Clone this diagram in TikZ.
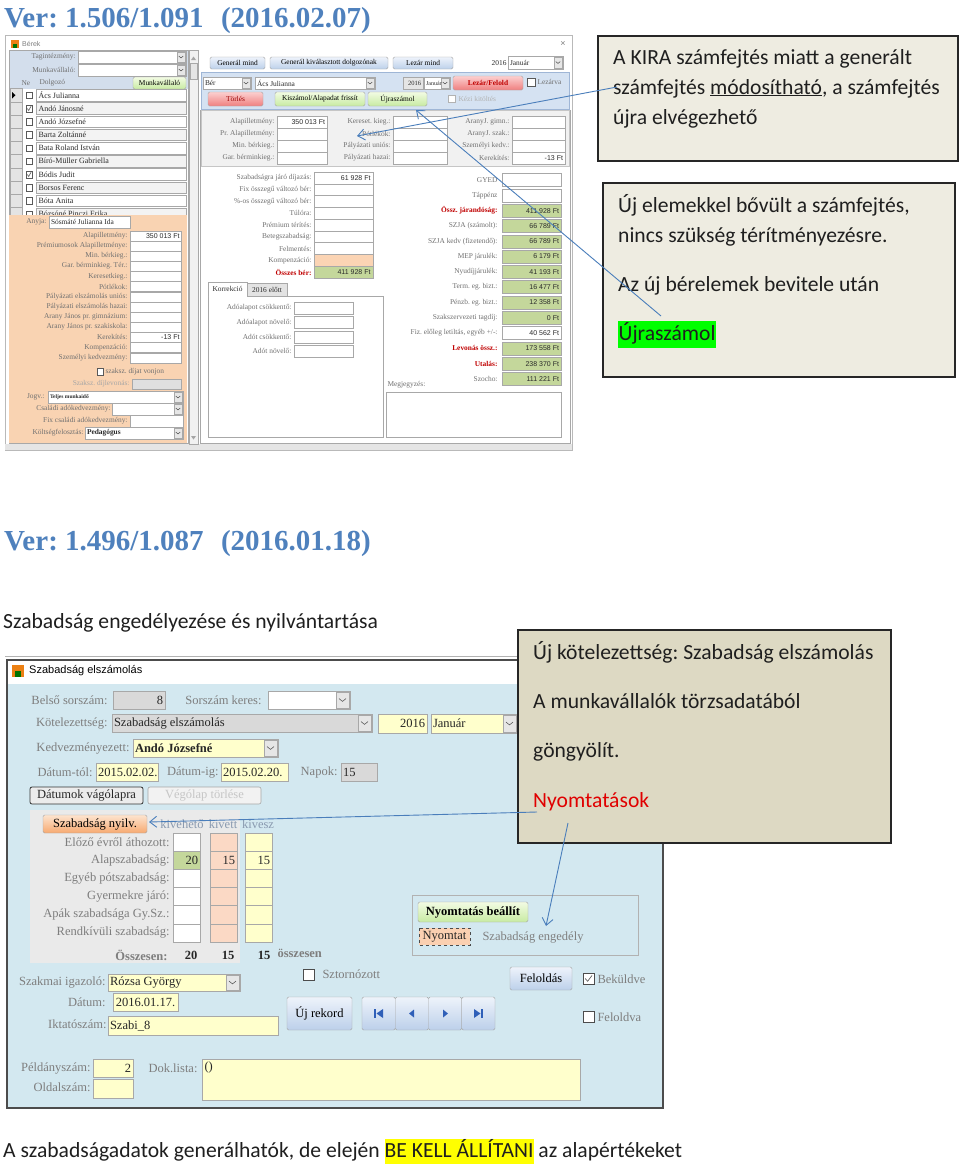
\documentclass[tikz,border=0pt]{standalone}
\usepackage{fontspec}
\setmainfont{Liberation Serif}
\newfontfamily\calfont{Carlito}
\newfontfamily\sansui{Liberation Sans}
\usetikzlibrary{arrows.meta}
\frenchspacing
\definecolor{titleblue}{HTML}{4F81BD}
\definecolor{arrowblue}{HTML}{4A7EBB}
\definecolor{noteA}{HTML}{EEECE1}
\definecolor{noteB}{HTML}{DDD9C3}
\definecolor{hlgreen}{HTML}{00FF00}
\definecolor{hlyellow}{HTML}{FFFF00}
\definecolor{labgray}{HTML}{707070}
\definecolor{valdark}{HTML}{2A2A2A}
\definecolor{fdborder}{HTML}{A8A8A8}
\definecolor{panelblue}{HTML}{D3DEEC}
\definecolor{peach}{HTML}{F9D3B2}
\definecolor{bandblue}{HTML}{D5E2F2}
\definecolor{bandline}{HTML}{9FB6D6}
\definecolor{graypanel}{HTML}{F1F1F1}
\definecolor{xlgreen}{HTML}{C4D79B}
\definecolor{xlorange}{HTML}{FBD4B4}
\definecolor{darkred}{HTML}{C00000}
\definecolor{btnblueT}{HTML}{EEF3FB}
\definecolor{btnblueB}{HTML}{BCD0EA}
\definecolor{btngreenT}{HTML}{F2FBE3}
\definecolor{btngreenB}{HTML}{C8EBA2}
\definecolor{btnredT}{HTML}{FCD0D0}
\definecolor{btnredB}{HTML}{EF7F7F}
\definecolor{btnoraT}{HTML}{FDE4CF}
\definecolor{btnoraB}{HTML}{F7A970}
\definecolor{winblue}{HTML}{D3E8F0}
\definecolor{secgray}{HTML}{EAEAEA}
\definecolor{fyellow}{HTML}{FFFFCC}
\definecolor{fsalmon}{HTML}{FBD9C5}
\definecolor{ddbg}{HTML}{E6E6E6}
\definecolor{selgray}{HTML}{E4E4E4}
\definecolor{rowgray}{HTML}{F3F3F3}
\definecolor{navblue}{HTML}{2F5FB8}
\definecolor{nyred}{HTML}{E00000}
\definecolor{fgray}{HTML}{D9D9D9}
\definecolor{hdrblue}{HTML}{8A9AB0}

\newcommand\uf{\fontsize{7.4}{8}\selectfont}
\newcommand\ddw{9}
\newcommand\Lb[3]{\node[lb,anchor=east] at (#1,#2) {#3};}
\newcommand\Lw[3]{\node[lb,anchor=west] at (#1,#2) {#3};}
\newcommand\Fd[6]{\draw[fd,fill=#5] (#1,#2) rectangle (#3,#4);\node[ft,anchor=east] at (#3-1.5,{(#2+#4)/2}) {#6};}
\newcommand\Fl[6]{\draw[fd,fill=#5] (#1,#2) rectangle (#3,#4);\node[ft,anchor=west] at (#1+1.5,{(#2+#4)/2}) {#6};}
\newcommand\Fc[6]{\draw[fd,fill=#5] (#1,#2) rectangle (#3,#4);\node[ft] at ({(#1+#3)/2},{(#2+#4)/2}) {#6};}
\newcommand\Dd[6]{\draw[fd,fill=#5] (#1,#2) rectangle (#3,#4);\draw[fd,fill=ddbg] (#3-\ddw,#2+1) rectangle (#3-1,#4-1);\draw[chev] (#3-0.5*\ddw-0.25*\ddw-0.5,{(#2+#4)/2-0.1*\ddw}) -- ++(0.25*\ddw,0.2*\ddw) -- ++(0.25*\ddw,-0.2*\ddw);\node[ft,anchor=west] at (#1+1.5,{(#2+#4)/2}) {#6};}
\newcommand\Bt[7]{\draw[btn,top color=#5,bottom color=#6] (#1,#2) rectangle (#3,#4);\node[bt] at ({(#1+#3)/2},{(#2+#4)/2}) {#7};}
\newcommand\Cb[3]{\draw[cbx] (#1,#2) rectangle (#1+#3,#2+#3);}
\newcommand\Ck[3]{\Cb{#1}{#2}{#3}\draw[cbx,fill=none,line width=0.6] (#1+0.2*#3,#2+0.5*#3) -- (#1+0.42*#3,#2+0.75*#3) -- (#1+0.82*#3,#2+0.22*#3);}

\tikzset{
 lb/.style={font=\uf,text=labgray,inner sep=0.3pt},
 lbr/.style={font=\uf\bfseries,text=darkred,inner sep=0.3pt},
 ft/.style={font=\uf,text=valdark,inner sep=0.3pt},
 fd/.style={draw=fdborder,line width=0.4pt},
 chev/.style={draw=gray!60!black,line width=0.5pt},
 btn/.style={draw=gray!70,rounded corners=1.5pt,line width=0.4pt},
 bt/.style={font=\uf,text=black,inner sep=0pt},
 cbx/.style={draw=gray!70!black,fill=white,line width=0.4pt},
 callout/.style={draw=black!85,line width=1.2pt},
 ctext/.style={font=\calfont\fontsize{21.6}{24}\selectfont,text=black!88,anchor=base west,inner sep=0pt},
 vertitle/.style={anchor=base west,inner sep=0pt,text=titleblue,font=\bfseries\fontsize{29}{32}\selectfont},
 pointer/.style={draw=arrowblue,line width=0.9pt,-{Straight Barb[length=7pt,width=11pt]}},
 winttl/.style={font=\sansui\fontsize{7}{8}\selectfont,text=gray,inner sep=0pt},
}

\begin{document}
\begin{tikzpicture}[x=1pt,y=-1pt]
\useasboundingbox (0,0) rectangle (960,1170);
\fill[white] (0,0) rectangle (960,1170);

\node[vertitle] (ver1) at (4,27) {Ver: 1.506/1.091\hspace{0.6em}(2016.02.07)};

%================ window 1: Bérek =================
\draw[draw=gray!55,fill=white,line width=0.8] (5,35) rectangle (572,450);
\fill[gray!20] (5,444) rectangle (572,450);
\fill[orange!70!brown] (11,40) rectangle (19,48);
\fill[green!45!black] (13,44) rectangle (17,48);
\node[winttl,anchor=west] (w1title) at (22,44) {Bérek};
\node[text=gray,font=\sansui\fontsize{9}{9}\selectfont,inner sep=0] (w1x) at (563,44) {×};

% left list panel
\fill[panelblue] (9,50) rectangle (188,89);
\draw[fdborder,line width=0.4] (9,50) rectangle (188,443);
\draw[fd,fill=graypanel] (189,50) rectangle (198,444);
\fill[gray!70] (191,60) -- (196,60) -- (193.5,56.5) -- cycle;
\draw[fd,fill=gray!20] (190,63) rectangle (197,79);
\fill[gray!70] (191,436) -- (196,436) -- (193.5,439.5) -- cycle;
\Lb{76}{57}{Tagintézmény:}
\Dd{78}{51}{186}{63}{white}{}
\Lb{76}{70}{Munkavállaló:}
\Dd{78}{64}{186}{76}{white}{}
\Lw{21}{83}{Ne}
\Lw{39}{83}{Dolgozó}
\Bt{133}{77}{186}{89}{btngreenT}{btngreenB}{Munkavállaló}

\foreach \nm [count=\i from 0] in {Ács Julianna,Andó Jánosné,Andó Józsefné,Barta Zoltánné,Bata Roland István,Bíró-Müller Gabriella,Bódis Judit,Borsos Ferenc,Bóta Anita,Bózsóné Pinczi Erika}{
  \pgfmathsetmacro\yt{88.5+13.2*\i}
  \draw[fd,fill=selgray] (10,\yt) rectangle (22,\yt+13.2);
  \ifodd\i \def\rf{rowgray}\else\def\rf{white}\fi
  \draw[fd,fill=\rf] (36,\yt+0.8) rectangle (186,\yt+12.4);
  \Cb{26}{\yt+3.5}{6.5}
  \node[ft,anchor=west,font=\fontsize{8}{9}\selectfont] at (38,\yt+6.6) {\nm};
}
\fill[black] (12,92) -- (12,98.5) -- (15.5,95.2) -- cycle;
\draw[cbx,fill=none,line width=0.6] (27.3,108.5) -- (28.7,110.5) -- (31.3,105.7);
\draw[cbx,fill=none,line width=0.6] (27.3,174.5) -- (28.7,176.5) -- (31.3,171.7);

% orange panel
\fill[peach] (9,215) rectangle (187,443);
\Lb{47}{222}{Anyja:}
\Fl{49}{216}{130}{228}{white}{Sósmáté Julianna Ida}
\newcommand\OR[3]{\Lb{128}{#1}{#2}\draw[fd,fill=white] (130,#1-5) rectangle (181,#1+5);\node[ft,anchor=east,font=\sansui\fontsize{7}{8}\selectfont] at (180,#1) {#3};}
\OR{235.7}{Alapilletmény:}{350 013 Ft}
\OR{245.9}{Prémiumosok Alapilletménye:}{}
\OR{256.0}{Min. bérkieg.:}{}
\OR{266.2}{Gar. bérminkieg. Tér.:}{}
\OR{276.4}{Keresetkieg.:}{}
\OR{286.5}{Pótlékok:}{}
\OR{296.7}{Pályázati elszámolás uniós:}{}
\OR{306.9}{Pályázati elszámolás hazai:}{}
\OR{317.1}{Arany János pr. gimnázium:}{}
\OR{327.2}{Arany János pr. szakiskola:}{}
\OR{337.4}{Kerekítés:}{-13 Ft}
\OR{347.6}{Kompenzáció:}{}
\OR{357.7}{Személyi kedvezmény:}{}
\Cb{97}{368.5}{6.5}
\Lw{105}{372}{szaksz. díjat vonjon}
\node[lb,anchor=east,text=gray!70] at (130,384) {Szaksz. díjlevonás:};
\draw[fd,fill=gray!25] (132,379) rectangle (181,389);
\Lb{45}{397}{Jogv.:}
\Dd{48}{391}{183}{403}{white}{\fontsize{5.5}{6}\selectfont\bfseries Teljes munkaidő}
\Lb{111}{409}{Családi adókedvezmény:}
\Dd{112}{403}{183}{415}{white}{}
\Lb{128}{421}{Fix családi adókedvezmény:}
\Fl{130}{415}{183}{427}{white}{}
\Lb{84}{433}{Költségfelosztás:}
\Dd{85}{427}{183}{439}{white}{\bfseries Pedagógus}

% right pane
\draw[fd] (200,110) rectangle (570,443);
\Bt{210}{57}{265}{69}{btnblueT}{btnblueB}{Generál mind}
\Bt{270}{57}{388}{69}{btnblueT}{btnblueB}{Generál kiválasztott dolgozónak}
\Bt{393}{57}{453}{69}{btnblueT}{btnblueB}{Lezár mind}
\node[ft,anchor=east] at (507,63) {2016};
\Dd{508}{56}{563}{69}{white}{Január}

\draw[draw=bandline,fill=bandblue,line width=0.4] (201,72) rectangle (569,109);
\Dd{203}{77}{251}{89}{white}{Bér}
\Dd{255}{77}{375}{89}{white}{Ács Julianna}
\Fd{403}{77}{423}{89}{gray!20}{\fontsize{6.5}{7}\selectfont 2016}
\Dd{424}{77}{450}{89}{white}{\fontsize{6}{7}\selectfont Január}
\Bt{453}{76}{523}{90}{btnredT}{btnredB}{\color{darkred}\bfseries Lezár/Felold}
\Cb{527}{78}{8}
\Lw{537}{82}{Lezárva}
\Bt{208}{92}{263}{106}{btnredT}{btnredB}{\color{darkred!80!black}Törlés}
\Bt{275}{92}{365}{106}{btngreenT}{btngreenB}{Kiszámol/Alapadat frissít}
\Bt{368}{92}{427}{106}{btngreenT}{btngreenB}{Újraszámol}
\draw[cbx,draw=gray!60] (448,95) rectangle (455,102);
\node[lb,anchor=west,text=gray!60] at (458,99) {Kézi kitöltés};

\draw[draw=gray!45,fill=graypanel,line width=0.4] (201,110) rectangle (569,166);
\newcommand\GR[7]{\Lb{#1}{#4}{#5}\draw[fd,fill=white] (#2,#4-5.8) rectangle (#3,#4+5.8);\node[ft,anchor=east,font=\sansui\fontsize{7}{8}\selectfont] at (#3-1.5,#4) {#6};}
\GR{275}{277}{327}{122}{Alapilletmény:}{350 013 Ft}{}
\GR{275}{277}{327}{134}{Pr. Alapilletmény:}{}{}
\GR{275}{277}{327}{146}{Min. bérkieg.:}{}{}
\GR{275}{277}{327}{158}{Gar. bérminkieg.:}{}{}
\GR{391}{393}{447}{122}{Kereset. kieg.:}{}{}
\GR{391}{393}{447}{134}{Pótlékok:}{}{}
\GR{391}{393}{447}{146}{Pályázati uniós:}{}{}
\GR{391}{393}{447}{158}{Pályázati hazai:}{}{}
\GR{510}{512}{565}{122}{AranyJ. gimn.:}{}{}
\GR{510}{512}{565}{134}{AranyJ. szak.:}{}{}
\GR{510}{512}{565}{146}{Személyi kedv.:}{}{}
\GR{510}{512}{565}{158}{Kerekítés:}{-13 Ft}{}

% lower left column
\newcommand\LL[4]{\node[#4,anchor=east] at (312,#1) {#2};\draw[fd,fill=#3] (314,#1-5.9) rectangle (373,#1+5.9);}
\LL{178}{Szabadságra járó díjazás:}{white}{lb}
\node[ft,anchor=east,font=\sansui\fontsize{7}{8}\selectfont] at (371,178) {61 928 Ft};
\LL{189.75}{Fix összegű változó bér:}{white}{lb}
\LL{201.5}{\%-os összegű változó bér:}{white}{lb}
\LL{213.25}{Túlóra:}{white}{lb}
\LL{225}{Prémium térítés:}{white}{lb}
\LL{236.75}{Betegszabadság:}{white}{lb}
\LL{248.5}{Felmentés:}{white}{lb}
\LL{260.25}{Kompenzáció:}{xlorange}{lb}
\LL{272}{Összes bér:}{xlgreen}{lbr}
\node[ft,anchor=east,font=\sansui\fontsize{7}{8}\selectfont] at (371,272) {411 928 Ft};

% tabs
\draw[fd,fill=white] (208,296) rectangle (383,437);
\draw[fd,fill=white] (208,282) rectangle (247,296);
\node[ft] at (227.5,289) {Korrekció};
\draw[fd,fill=gray!22] (247,283) rectangle (287,296);
\node[ft] at (267,289.5) {2016 előtt};
\draw[white,line width=0.8] (208.5,296) -- (246.5,296);
\newcommand\TB[2]{\Lb{292}{#1}{#2}\draw[fd,fill=white] (294,#1-6) rectangle (353,#1+6);}
\TB{308}{Adóalapot csökkentő:}
\TB{322.5}{Adóalapot növelő:}
\TB{337}{Adót csökkentő:}
\TB{351}{Adót növelő:}

% right column
\newcommand\RC[4]{\node[#4,anchor=east] at (498,#1) {#2};\draw[fd,fill=#3] (502,#1-6.5) rectangle (561,#1+6.5);}
\newcommand\RV[2]{\node[ft,anchor=east,font=\sansui\fontsize{7}{8}\selectfont] at (559.5,#1) {#2};}
\RC{180}{GYED}{white}{lb}
\RC{195.3}{Táppénz}{white}{lb}
\RC{210.6}{Össz. járandóság:}{xlgreen}{lbr}\RV{210.6}{411 928 Ft}
\RC{225.9}{SZJA (számolt):}{xlgreen}{lb}\RV{225.9}{66 789 Ft}
\RC{241.2}{SZJA kedv (fizetendő):}{xlgreen}{lb}\RV{241.2}{66 789 Ft}
\RC{256.5}{MEP járulék:}{xlgreen}{lb}\RV{256.5}{6 179 Ft}
\RC{271.8}{Nyudíjjárulék:}{xlgreen}{lb}\RV{271.8}{41 193 Ft}
\RC{287.1}{Term. eg. bizt.:}{xlgreen}{lb}\RV{287.1}{16 477 Ft}
\RC{302.4}{Pénzb. eg. bizt.:}{xlgreen}{lb}\RV{302.4}{12 358 Ft}
\RC{317.7}{Szakszervezeti tagdíj:}{xlgreen}{lb}\RV{317.7}{0 Ft}
\RC{333}{Fiz. előleg letiltás, egyéb +/-:}{white}{lb}\RV{333}{40 562 Ft}
\RC{348.3}{Levonás össz.:}{xlgreen}{lbr}\RV{348.3}{173 558 Ft}
\RC{363.6}{Utalás:}{xlgreen}{lbr}\RV{363.6}{238 370 Ft}
\RC{378.9}{Szocho:}{xlgreen}{lb}\RV{378.9}{111 221 Ft}
\Lw{387}{385}{Megjegyzés:}
\draw[fd,fill=white] (386,392) rectangle (561,437);

%================ callouts top =================
\draw[callout,fill=noteA] (598,36) rectangle (958,161);
\node[ctext] (c1a) at (613,64) {A KIRA számfejtés miatt a generált};
\node[ctext] (c1b) at (613,94) {számfejtés \underline{módosítható}, a számfejtés};
\node[ctext] (c1c) at (613,124) {újra elvégezhető};

\draw[callout,fill=noteA] (603,183) rectangle (955,377);
\node[ctext] (c2a) at (618,212) {Új elemekkel bővült a számfejtés,};
\node[ctext] (c2b) at (618,242) {nincs szükség térítményezésre.};
\node[ctext] (c2c) at (618,291) {Az új bérelemek bevitele után};
\node[ctext] (c2d) at (618,340) {\setlength\fboxsep{0.5pt}\colorbox{hlgreen}{\strut Újraszámol}};

\coordinate (p1s) at (617,87);
\coordinate (p1e) at (357,136);
\draw[pointer] (p1s) -- (p1e);
\coordinate (p2s) at (661,316);
\coordinate (p2e) at (416,110);
\draw[pointer] (p2s) -- (p2e);

%================ second section =================
\node[vertitle] (ver2) at (4,550) {Ver: 1.496/1.087\hspace{0.6em}(2016.01.18)};
\node[ctext] (cap1) at (3,628) {Szabadság engedélyezése és nyilvántartása};

\begin{scope}
\renewcommand\uf{\fontsize{12.5}{13}\selectfont}
\renewcommand\ddw{14}
\tikzset{lb/.style={font=\uf,text=labgray!90,inner sep=0.3pt}, ft/.style={font=\uf,text=black!85,inner sep=0.3pt}, cbx/.style={draw=gray!60!black,fill=white,line width=0.5pt}}
\draw[gray!60,line width=0.6] (5,656) -- (664,656);
\draw[draw=black!70,fill=white,line width=1.2] (7,660) rectangle (663,1108);
\fill[winblue] (8,684) rectangle (662,1107);
\fill[orange!70!brown] (12,665) rectangle (24,677);
\fill[green!45!black] (15,671) rectangle (21,677);
\node[anchor=west,inner sep=0,font=\sansui\fontsize{11}{12}\selectfont] (w2title) at (29,671) {Szabadság elszámolás};

\Lb{108}{700}{Belső sorszám:}
\Fd{113}{691}{165}{709}{fgray}{8}
\Lb{262}{700}{Sorszám keres:}
\Dd{268}{691}{350}{709}{white}{}
\Lb{108}{723}{Kötelezettség:}
\Dd{112}{714}{372}{732}{fgray}{Szabadság elszámolás}
\Fd{378}{714}{427}{733}{fyellow}{2016}
\Dd{431}{714}{517}{733}{fyellow}{Január}
\Lb{130}{748}{Kedvezményezett:}
\Dd{133}{739}{278}{757}{fyellow}{\bfseries Andó Józsefné}
\Lb{93}{772}{Dátum-tól:}
\Fl{96}{763}{158}{781}{fyellow}{2015.02.02.}
\Lb{219}{772}{Dátum-ig:}
\Fl{221}{763}{288}{781}{fyellow}{2015.02.20.}
\Lb{338}{772}{Napok:}
\Fl{341}{763}{377}{781}{fgray}{15}
\draw[draw=black!80,fill=gray!15,rounded corners=2pt,line width=0.8] (30,787) rectangle (143,804);
\node[ft] (datbtn) at (86.5,795.5) {Dátumok vágólapra};
\draw[draw=gray!70,fill=gray!10,rounded corners=2pt,line width=0.6] (148,787) rectangle (261,804);
\node[ft,text=gray!45] (torlbtn) at (204.5,795.5) {Végólap törlése};

\fill[secgray] (30,810) rectangle (240,963);
\Bt{43}{815}{147}{833}{btnoraT}{btnoraB}{Szabadság nyilv.}
\node[lb,text=hdrblue] at (182,824) {kivehető};
\node[lb,text=hdrblue] at (223,824) {kivett};
\node[lb,text=hdrblue] at (258,824) {kivesz};
\foreach \lab [count=\k from 0] in {Előző évről áthozott:,Alapszabadság:,Egyéb pótszabadság:,Gyermekre járó:,Apák szabadsága Gy.Sz.:,Rendkívüli szabadság:}{
  \pgfmathsetmacro\yr{833+18.17*\k}
  \node[lb,anchor=east] at (170,\yr+9) {\lab};
  \draw[fd,fill=white] (173,\yr) rectangle (200,\yr+18.17);
  \draw[fd,fill=fsalmon] (210,\yr) rectangle (237,\yr+18.17);
  \draw[fd,fill=fyellow] (245,\yr) rectangle (272,\yr+18.17);
}
\draw[fd,fill=xlgreen] (173,851.17) rectangle (200,869.34);
\node[ft,anchor=east] at (198.5,860.3) {20};
\node[ft,anchor=east] at (235.5,860.3) {15};
\node[ft,anchor=east] at (270.5,860.3) {15};
\node[lb,anchor=east,font=\uf\bfseries] at (168,955) {Összesen:};
\node[ft,font=\uf\bfseries] at (191,955) {20};
\node[ft,font=\uf\bfseries] at (228,955) {15};
\node[ft,font=\uf\bfseries] at (264,955) {15};
\node[lb,anchor=west,font=\uf\bfseries] at (277,953) {összesen};

\Lb{106}{982}{Szakmai igazoló:}
\Dd{108}{974}{240}{991}{fyellow}{Rózsa György}
\Lb{106}{1002}{Dátum:}
\Fc{113}{993}{178}{1011}{fyellow}{2016.01.17.}
\Lb{107}{1024}{Iktatószám:}
\Fl{108}{1016}{278}{1035}{fyellow}{Szabi\_8}
\Cb{303}{969}{11}
\Lw{322}{974}{Sztornózott}
\Bt{287}{997}{352}{1030}{btnblueT}{btnblueB}{\uf Új rekord}
\foreach \j in {0,1,2,3}{
  \draw[btn,top color=btnblueT,bottom color=btnblueB] (362+33.25*\j,997) rectangle (395.25+33.25*\j,1030);
}
\fill[navblue] (374,1009) rectangle (375.6,1018);
\fill[navblue] (383,1009) -- (383,1018) -- (376.5,1013.5) -- cycle;
\fill[navblue] (414,1009.5) -- (414,1017.5) -- (409,1013.5) -- cycle;
\fill[navblue] (443,1009.5) -- (443,1017.5) -- (448,1013.5) -- cycle;
\fill[navblue] (474,1009) -- (474,1018) -- (480.5,1013.5) -- cycle;
\fill[navblue] (481.4,1009) rectangle (483,1018);

\draw[draw=gray!60,line width=0.6] (412,895) rectangle (638,955);
\Bt{418}{902}{528}{922}{btngreenT}{btngreenB}{\uf\bfseries Nyomtatás beállít}
\draw[draw=gray!60!black,fill=fsalmon!90!orange,dashed,line width=0.5] (419,928) rectangle (470,945);
\node[ft] (nyomtat) at (444.5,936.5) {Nyomtat};
\node[lb,anchor=west,text=gray] at (482,937) {Szabadság engedély};
\Bt{510}{967}{572}{990}{btnblueT}{btnblueB}{\uf Feloldás}
\Ck{583}{973}{11}
\Lw{597}{979}{Beküldve}
\Cb{583}{1011}{11}
\Lw{597}{1017}{Feloldva}

\Lb{91}{1068}{Példányszám:}
\Fd{93}{1059}{133}{1077}{fyellow}{2}
\Lb{91}{1087}{Oldalszám:}
\Fd{93}{1079}{133}{1098}{fyellow}{}
\Lb{198}{1068}{Dok.lista:}
\draw[fd,fill=fyellow] (202,1059) rectangle (580,1100);
\node[ft,anchor=north west] at (204,1061) {()};
\end{scope}

%================ callout bottom =================
\draw[callout,fill=noteB] (518,630) rectangle (891,843);
\node[ctext] (c3a) at (533,659) {Új kötelezettség: Szabadság elszámolás};
\node[ctext] (c3b) at (533,708) {A munkavállalók törzsadatából};
\node[ctext] (c3c) at (533,757) {göngyölít.};
\node[ctext,text=nyred] (c3d) at (533,807) {Nyomtatások};

\coordinate (p3s) at (537,812);
\coordinate (p3e) at (149,822);
\draw[pointer] (p3s) -- (p3e);
\coordinate (p4s) at (568,823);
\coordinate (p4e) at (546,926);
\draw[pointer] (p4s) -- (p4e);

\node[ctext] (cap2) at (3,1157) {A szabadságadatok generálhatók, de elején {\setlength\fboxsep{0pt}\colorbox{hlyellow}{\strut BE KELL ÁLLÍTANI}} az alapértékeket};
\end{tikzpicture}
\end{document}
